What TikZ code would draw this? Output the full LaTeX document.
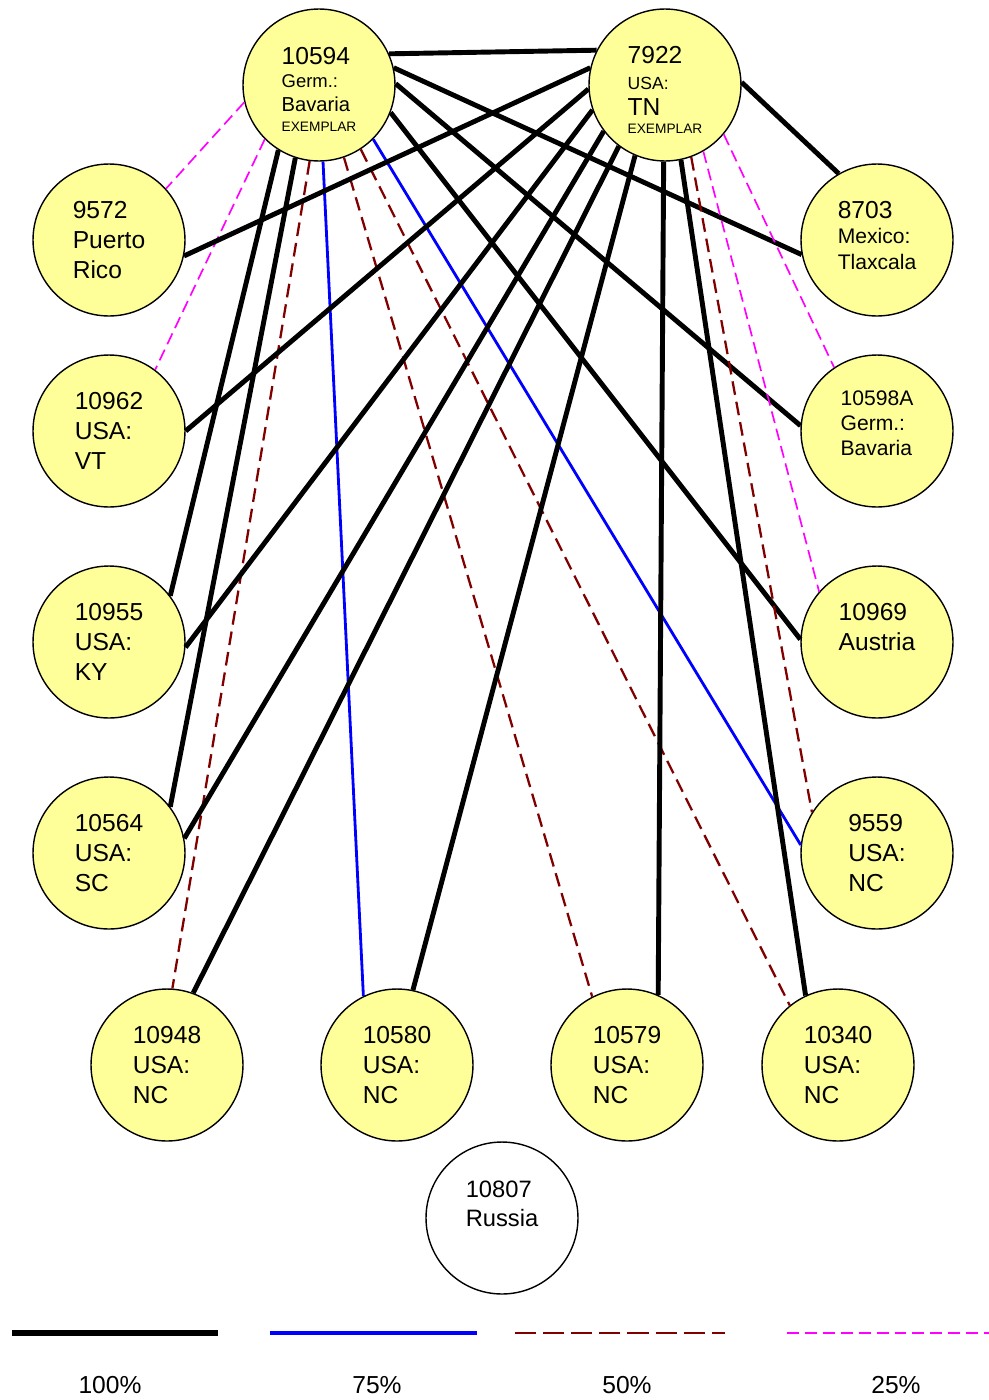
\documentclass[tikz,border=0pt]{standalone}
\usepackage{fontspec}
\setmainfont{Liberation Sans}
\definecolor{pale}{HTML}{FFFF99}
\definecolor{darkred}{HTML}{800000}
\definecolor{pink}{HTML}{FF00FF}
\newcommand{\sampfont}{\fontsize{14}{17.3}\selectfont}
\newcommand{\regfont}{\fontsize{12}{14.2}\selectfont}
\tikzset{
    sample/.style={circle, draw, line width=0.8pt, fill=pale,
        minimum size=3.04cm, inner sep=0pt, align=left, font=\sampfont},
    pct100/.style={line width=2.8pt},
    pct75/.style={blue, line width=1.6pt},
    pct50/.style={darkred, line width=1.3pt, dash pattern=on 7.8pt off 4pt},
    pct25/.style={pink, line width=0.95pt, dash pattern=on 6.8pt off 3.4pt}
}
\begin{document}
\begin{tikzpicture}
        [x=0.02cm, y=-0.02cm]
        \useasboundingbox (0,0) rectangle (989,1400);
        % exemplars
        \node[sample, font=\fontsize{14}{13.6}\selectfont] (s10594) at (319,85)
            {\rule{0pt}{14.5pt}10594\\ \fontsize{10.5}{13.6}\selectfont Germ.:\\
             \fontsize{11.5}{13.6}\selectfont Bavaria\\[-2.5pt]
             \fontsize{7.8}{9.6}\selectfont EXEMPLAR};
        \node[sample, font=\fontsize{14}{13.6}\selectfont] (s7922) at (665,85)
            {\rule{0pt}{15.6pt}7922\\[1pt] \fontsize{10}{13.6}\selectfont USA:\\[1.3pt]
             \fontsize{14}{16}\selectfont TN\\[-3.4pt]
             \fontsize{7.8}{10}\selectfont EXEMPLAR};
        % left column
        \node[sample] (s9572) at (109,240) {9572\\Puerto\\Rico};
        \node[sample] (s10962) at (109,431) {10962\\USA:\\VT};
        \node[sample] (s10955) at (109,642) {10955\\USA:\\KY};
        \node[sample] (s10564) at (109,853) {10564\\USA:\\SC};
        % right column
        \node[sample, font=\fontsize{14}{14.5}\selectfont] (s8703) at (877,240)
            {8703\\ \fontsize{12}{14.5}\selectfont Mexico:\\
             \fontsize{12}{14.5}\selectfont Tlaxcala\\[-8.9pt]\mbox{}};
        \node[sample, font=\regfont] (s10598A) at (877,431)
            {10598A\\Germ.:\\Bavaria\\[-5.4pt]\mbox{}};
        \node[sample] (s10969) at (877,642)
            {10969\\ \fontsize{14}{15.9}\selectfont Austria\\ \mbox{}};
        \node[sample] (s9559) at (877,853) {9559\\USA:\\NC};
        % bottom row
        \node[sample] (s10948) at (167,1065) {10948\\USA:\\NC};
        \node[sample] (s10580) at (397,1065) {10580\\USA:\\NC};
        \node[sample] (s10579) at (627,1065) {10579\\USA:\\NC};
        \node[sample] (s10340) at (838,1065) {10340\\USA:\\NC};
        \node[sample, fill=white, font=\fontsize{13.5}{16.5}\selectfont]
            (s10807) at (502,1218) {10807\\Russia\\ \mbox{}};
        % links from 10594
        \draw[pct100] (s10594.24) -- (s7922.153);
        \draw[pct100] (s10594.13) -- (s8703.191);
        \draw[pct100] (s10594.1) -- (s10598A.176);
        \draw[pct100] (s10594.-21) -- (s10969.178);
        \draw[pct75] (s10594.-45) -- (s9559.174);
        \draw[pct50] (s10594.-71) -- (s10579.117);
        \draw[pct50] (s10594.-57) -- (s10340.129);
        \draw[pct75] (s10594.-87) -- (s10580.116);
        \draw[pct50] (s10594.-97) -- (s10948.86);
        \draw[pct100] (s10594.-122) -- (s10955.37);
        \draw[pct100] (s10594.-108) -- (s10564.37);
        \draw[pct25] (s10594.-167) -- (s9572.42);
        \draw[pct25] (s10594.-135) -- (s10962.53);
        % links from 7922
        \draw[pct100] (s7922.167) -- (s9572.-12);
        \draw[pct100] (s7922.183) -- (s10962.0);
        \draw[pct100] (s7922.199) -- (s10955.-4);
        \draw[pct100] (s7922.217) -- (s10564.11);
        \draw[pct100] (s7922.233) -- (s10948.70);
        \draw[pct100] (s7922.247) -- (s10580.78);
        \draw[pct100] (s7922.-91) -- (s10579.66);
        \draw[pct100] (s7922.-78) -- (s10340.115);
        \draw[pct100] (s7922.2) -- (s8703.120);
        \draw[pct50] (s7922.-70) -- (s9559.148);
        \draw[pct25] (s7922.-60) -- (s10969.139);
        \draw[pct25] (s7922.-40) -- (s10598A.124);
        % legend
        \draw[pct100, line width=3.4pt] (12,1333) -- (218,1333);
        \draw[pct75, line width=2.4pt] (270,1333) -- (477,1333);
        \draw[pct50, line width=1.6pt, dash pattern=on 12pt off 4pt] (515,1333) -- (725,1333);
        \draw[pct25, line width=1.1pt] (787,1333) -- (989,1333);
        \node[font=\sampfont] (k100) at (110,1385) {100\%};
        \node[font=\sampfont] (k75) at (377,1385) {75\%};
        \node[font=\sampfont] (k50) at (627,1385) {50\%};
        \node[font=\sampfont] (k25) at (896,1385) {25\%};
        \end{tikzpicture}
\end{document}
